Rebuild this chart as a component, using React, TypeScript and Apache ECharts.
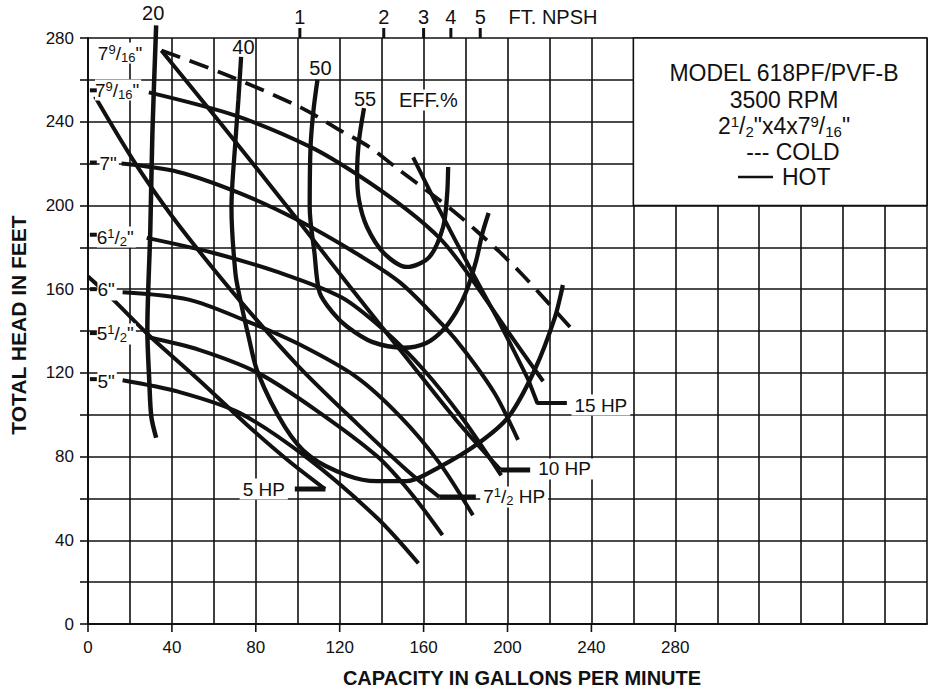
import React, { useEffect, useRef } from 'react';
import * as echarts from 'echarts';

const FONT = '"Liberation Sans", Arial, Helvetica, sans-serif';
const INK = '#111111';

// ---- axes ----
const X_MAX = 400;
const Y_MAX = 280;
const GRID_STEP = 20;
const X_LABELLED = [0, 40, 80, 120, 160, 200, 240, 280];

// ---- head-capacity curves [gpm, ft] ----
const HEAD_COLD_7_9_16 = [[35, 274], [67, 262], [102, 246.5], [120, 236], [134, 228], [147, 218], [161, 207.5], [174, 197.5], [185, 188], [196, 178], [207, 167], [218, 155], [231, 140.5]];
const HEAD_HOT_7_9_16 = [[29, 254], [70, 243], [106, 228], [128, 215], [152, 198], [168, 184], [180, 169], [200, 140], [217, 116]];
const HEAD_7 = [[16, 220], [43, 216], [72, 206], [100, 193], [128, 177], [149, 163], [169, 143], [180, 130], [194, 110], [205, 88]];
const HEAD_6_5 = [[28, 184.5], [59, 177.5], [91, 168], [121, 156], [141, 140.5], [160, 121.5], [178, 99], [197, 71]];
const HEAD_6 = [[16.5, 158.5], [48, 155], [75, 145], [100, 134], [128, 118], [149, 99], [167.5, 77], [183.5, 52]];
const HEAD_5_5 = [[29, 137], [53, 131], [81, 120], [109, 102], [138, 80], [154, 62.5], [169, 42.5]];
const HEAD_5 = [[16.5, 116.5], [43, 111], [72, 101], [105, 79], [138, 50.5], [157.5, 29]];

// ---- horsepower lines ----
const HP_5 = [[0, 166], [12, 155], [29, 138], [53, 116.5], [76, 95], [95, 78.5], [113, 64.5]];
const HP_7_5 = [[3.3, 252], [21, 222.5], [37, 199], [51.5, 180], [72, 155], [100, 123.5], [128, 96], [152, 73.5], [167.5, 60.7]];
const HP_10 = [[35, 274], [61, 242], [81, 217], [100, 193], [125, 161], [152, 127], [175.5, 97.5], [196.7, 73.6]];
const HP_15 = [[155, 223], [167.5, 198], [183.5, 167.5], [196.7, 143], [210, 116.5]];
const LEAD_5 = [[98.6, 64.5], [113.2, 64.5]];
const LEAD_7_5 = [[167.5, 60.7], [184.9, 60.7]];
const LEAD_10 = [[196.7, 73.6], [210.8, 73.6]];
const LEAD_15 = [[210, 116.5], [214.2, 105.6], [228.3, 105.6]];

// ---- efficiency curves ----
const EFF_20 = [[32.5, 286], [30.7, 234.5], [29.7, 188], [28.3, 140.5], [29.2, 116.5], [30.2, 99], [32.5, 89]];
const EFF_40 = [[73, 271], [71.7, 250.5], [70.3, 231], [68.4, 199], [70.3, 167.5], [72.6, 155], [76.4, 138], [81, 120], [94, 94], [106, 80], [123.6, 71], [137.7, 68.3], [152, 68.3], [167.5, 75], [186.3, 86.5], [200.5, 99], [213, 121.5], [222.6, 146.5], [226.4, 162]];
const EFF_50 = [[109.4, 260], [107.5, 245.5], [106.1, 228], [105.7, 199], [108, 177], [110.4, 158.5], [116.5, 149], [123.6, 142], [135.4, 134.8], [150.5, 132], [161.3, 134.3], [169.3, 140.5], [175.5, 149], [180.2, 158.5], [184.9, 173], [188.2, 187.3], [191, 196.4]];
const EFF_55 = [[131.6, 246.5], [129.2, 231], [128.3, 215.5], [129.2, 202.5], [133, 189.7], [141, 177.3], [152, 170.6], [162.7, 175.3], [169.3, 189.7], [171.2, 205], [171.7, 218.4]];

// ---- NPSH scale (top) ----
const NPSH_Q = [101, 141, 160, 173, 187];
const NPSH_TEXT = ['1', '2', '3', '4', '5'];

// ---- shut-off head marks at left axis ----
const SHUTOFF_H = [255, 220.5, 186, 160, 139, 117];

// ---- info box (gpm range, ft range) ----
const BOX_Q = [260, 400];
const BOX_H = [200, 280];

// ---- text labels [gpm, ft] ----
const IMPELLER_LABELS = [
  { t: '{n|7}{sup|9}{n|/}{sub|16}{n|"}', q: 4.7, h: 272.8 },
  { t: '{n|7}{sup|9}{n|/}{sub|16}{n|"}', q: 3.3, h: 255.1 },
  { t: '{n|7"}', q: 5.5, h: 219.8 },
  { t: '{n|6}{sup|1}{n|/}{sub|2}{n|"}', q: 4.2, h: 184.9 },
  { t: '{n|6"}', q: 4.5, h: 159.6 },
  { t: '{n|5}{sup|1}{n|/}{sub|2}{n|"}', q: 4.2, h: 138.6 },
  { t: '{n|5"}', q: 4.5, h: 116.1 },
];
const HP_LABELS = [
  { t: '{n|15 HP}', q: 230.5, h: 104.6, align: 'left' },
  { t: '{n|10 HP}', q: 213.2, h: 74.1, align: 'left' },
  { t: '{n|7}{sup|1}{n|/}{sub|2}{n| HP}', q: 187, h: 60.7, align: 'left' },
  { t: '{n|5 HP}', q: 95.3, h: 64.5, align: 'right' },
];
const EFF_LABELS = [
  { t: '{e|20}', q: 31.1, h: 292 },
  { t: '{e|40}', q: 74.1, h: 275.7 },
  { t: '{e|50}', q: 110.8, h: 265.6 },
  { t: '{e|55}', q: 132.1, h: 250.8 },
  { t: '{e|EFF.%}', q: 162.3, h: 250.4, bg: true },
];
const NPSH_TITLE = { t: '{e|FT. NPSH}', q: 221.7, h: 290 };

const richLabel = {
  n: { fontSize: 19, fontFamily: FONT, color: INK, lineHeight: 21 },
  e: { fontSize: 20, fontFamily: FONT, color: INK, lineHeight: 21 },
  sup: { fontSize: 13, fontFamily: FONT, color: INK, lineHeight: 16, verticalAlign: 'top' },
  sub: { fontSize: 13, fontFamily: FONT, color: INK, lineHeight: 16, verticalAlign: 'bottom' },
};

const richBox = {
  n: { fontSize: 23, fontFamily: FONT, fill: INK, lineHeight: 25 },
  sup: { fontSize: 15, fontFamily: FONT, fill: INK, lineHeight: 19, verticalAlign: 'top' },
  sub: { fontSize: 15, fontFamily: FONT, fill: INK, lineHeight: 19, verticalAlign: 'bottom' },
};

function curve(data: number[][], width = 4, extra: any = {}) {
  return {
    type: 'line',
    data,
    symbol: 'none',
    showSymbol: false,
    smooth: 0.3,
    clip: false,
    silent: true,
    z: 3,
    lineStyle: { color: INK, width, opacity: 1, ...(extra.lineStyle || {}) },
  };
}

function straight(data: number[][], width = 5) {
  return {
    type: 'line',
    data,
    symbol: 'none',
    showSymbol: false,
    smooth: false,
    clip: false,
    silent: true,
    z: 3,
    lineStyle: { color: INK, width, opacity: 1 },
  };
}

function buildOption(): any {
  const labelItems: any[] = [];
  IMPELLER_LABELS.forEach((l) =>
    labelItems.push({
      value: [l.q, l.h],
      t: l.t,
      label: { align: 'left', backgroundColor: '#fff', padding: [0, 2, 0, 0] },
    })
  );
  HP_LABELS.forEach((l) =>
    labelItems.push({
      value: [l.q, l.h],
      t: l.t,
      label: { align: l.align, backgroundColor: '#fff', padding: [0, 3, 0, 3] },
    })
  );
  EFF_LABELS.forEach((l) =>
    labelItems.push({
      value: [l.q, l.h],
      t: l.t,
      label: { align: 'center', backgroundColor: l.bg ? '#fff' : 'transparent', padding: [0, 2] },
    })
  );
  NPSH_Q.forEach((q, i) =>
    labelItems.push({ value: [q, 290], t: `{e|${NPSH_TEXT[i]}}`, label: { align: 'center' } })
  );
  labelItems.push({ value: [NPSH_TITLE.q, NPSH_TITLE.h], t: NPSH_TITLE.t, label: { align: 'center' } });

  const textBase = { fontFamily: FONT, fill: INK, align: 'center', verticalAlign: 'middle' };

  return {
    animation: false,
    backgroundColor: '#fff',
    grid: { left: 88, top: 38, width: 848, height: 586, containLabel: false },
    xAxis: {
      type: 'value',
      min: 0,
      max: X_MAX,
      interval: GRID_STEP,
      axisLine: { show: true, lineStyle: { color: INK, width: 2 } },
      axisTick: { show: false },
      axisLabel: {
        formatter: (v: number) => (X_LABELLED.includes(v) ? String(v) : ''),
        fontSize: 17,
        fontFamily: FONT,
        color: INK,
        margin: 15,
      },
      splitLine: { show: true, lineStyle: { color: INK, width: 1.6 } },
    },
    yAxis: {
      type: 'value',
      min: 0,
      max: Y_MAX,
      interval: GRID_STEP,
      axisLine: { show: true, lineStyle: { color: INK, width: 2 } },
      axisTick: { show: true, length: 8, lineStyle: { color: INK, width: 1.6 } },
      axisLabel: {
        formatter: (v: number) => (v % 40 === 0 ? String(v) : ''),
        fontSize: 17,
        fontFamily: FONT,
        color: INK,
        margin: 14,
      },
      splitLine: { show: true, lineStyle: { color: INK, width: 1.6 } },
    },
    graphic: [
      { type: 'text', x: 784, y: 73, z: 100, style: { ...textBase, text: 'MODEL 618PF/PVF-B', fontSize: 23 } },
      { type: 'text', x: 784, y: 100, z: 100, style: { ...textBase, text: '3500 RPM', fontSize: 23 } },
      {
        type: 'text', x: 784, y: 126, z: 100,
        style: { ...textBase, text: '{n|2}{sup|1}{n|/}{sub|2}{n|"x4x7}{sup|9}{n|/}{sub|16}{n|"}', rich: richBox },
      },
      { type: 'text', x: 793, y: 152, z: 100, style: { ...textBase, text: '--- COLD', fontSize: 23 } },
      { type: 'line', z: 100, shape: { x1: 738, y1: 177, x2: 773, y2: 177 }, style: { stroke: INK, lineWidth: 2.5 } },
      { type: 'text', x: 782, y: 177, z: 100, style: { ...textBase, align: 'left', text: 'HOT', fontSize: 23 } },
      {
        type: 'text', x: 522, y: 678, z: 100,
        style: { ...textBase, text: 'CAPACITY IN GALLONS PER MINUTE', fontSize: 20, fontWeight: 'bold' },
      },
      {
        type: 'text', x: 18, y: 325, rotation: Math.PI / 2, z: 100,
        style: { ...textBase, text: 'TOTAL HEAD IN FEET', fontSize: 21, fontWeight: 'bold' },
      },
    ],
    series: [
      {
        type: 'line',
        data: [[BOX_Q[0], BOX_H[0]]],
        symbol: 'none',
        lineStyle: { width: 0 },
        silent: true,
        z: 2,
        markArea: {
          silent: true,
          itemStyle: { color: '#fff', borderColor: INK, borderWidth: 1.6, opacity: 1 },
          label: { show: false },
          data: [[{ coord: [BOX_Q[0], BOX_H[0]] }, { coord: [BOX_Q[1], BOX_H[1]] }]],
        },
      },
      curve(HEAD_COLD_7_9_16, 3.8, { lineStyle: { type: [20, 10] } }),
      curve(HEAD_HOT_7_9_16),
      curve(HEAD_7),
      curve(HEAD_6_5),
      curve(HEAD_6),
      curve(HEAD_5_5),
      curve(HEAD_5),
      curve(HP_5),
      curve(HP_7_5),
      curve(HP_10),
      curve(HP_15),
      straight(LEAD_5),
      straight(LEAD_7_5),
      straight(LEAD_10),
      straight(LEAD_15, 4),
      curve(EFF_20, 4.5),
      curve(EFF_40, 4.3),
      curve(EFF_50, 4.3),
      curve(EFF_55, 4.3),
      {
        type: 'custom',
        coordinateSystem: 'cartesian2d',
        clip: false,
        silent: true,
        z: 5,
        data: X_LABELLED.map((v) => [v, 0]),
        renderItem: (_p: any, api: any) => {
          const p = api.coord([api.value(0), api.value(1)]);
          return { type: 'line', shape: { x1: p[0], y1: p[1], x2: p[0], y2: p[1] + 8 }, style: { stroke: INK, lineWidth: 1.6 } };
        },
      },
      {
        type: 'custom',
        coordinateSystem: 'cartesian2d',
        clip: false,
        silent: true,
        z: 5,
        data: NPSH_Q.map((q) => [q, Y_MAX]),
        renderItem: (_p: any, api: any) => {
          const p = api.coord([api.value(0), api.value(1)]);
          return { type: 'line', shape: { x1: p[0], y1: p[1], x2: p[0], y2: p[1] - 10 }, style: { stroke: INK, lineWidth: 3 } };
        },
      },
      {
        type: 'custom',
        coordinateSystem: 'cartesian2d',
        clip: false,
        silent: true,
        z: 7,
        data: SHUTOFF_H.map((h) => [0.9, h]),
        renderItem: (_p: any, api: any) => {
          const a = api.coord([api.value(0), api.value(1)]);
          const b = api.coord([4.2, api.value(1)]);
          return { type: 'line', shape: { x1: a[0], y1: a[1], x2: b[0], y2: b[1] }, style: { stroke: INK, lineWidth: 4 } };
        },
      },
      {
        type: 'scatter',
        clip: false,
        silent: true,
        z: 6,
        symbolSize: 1,
        itemStyle: { color: 'rgba(0,0,0,0)', opacity: 1 },
        data: labelItems,
        label: {
          show: true,
          position: 'inside',
          verticalAlign: 'middle',
          color: INK,
          formatter: (p: any) => p.data.t,
          rich: richLabel,
        },
      },
    ],
  };
}

export default function App() {
  const ref = useRef<HTMLDivElement>(null);
  useEffect(() => {
    if (!ref.current) return;
    const chart = echarts.init(ref.current, null, { renderer: 'svg' });
    chart.setOption(buildOption());
    return () => chart.dispose();
  }, []);
  return (
    <div
      ref={ref}
      style={{ position: 'absolute', left: 0, top: 0, width: 930, height: 691, background: '#fff' }}
    />
  );
}
